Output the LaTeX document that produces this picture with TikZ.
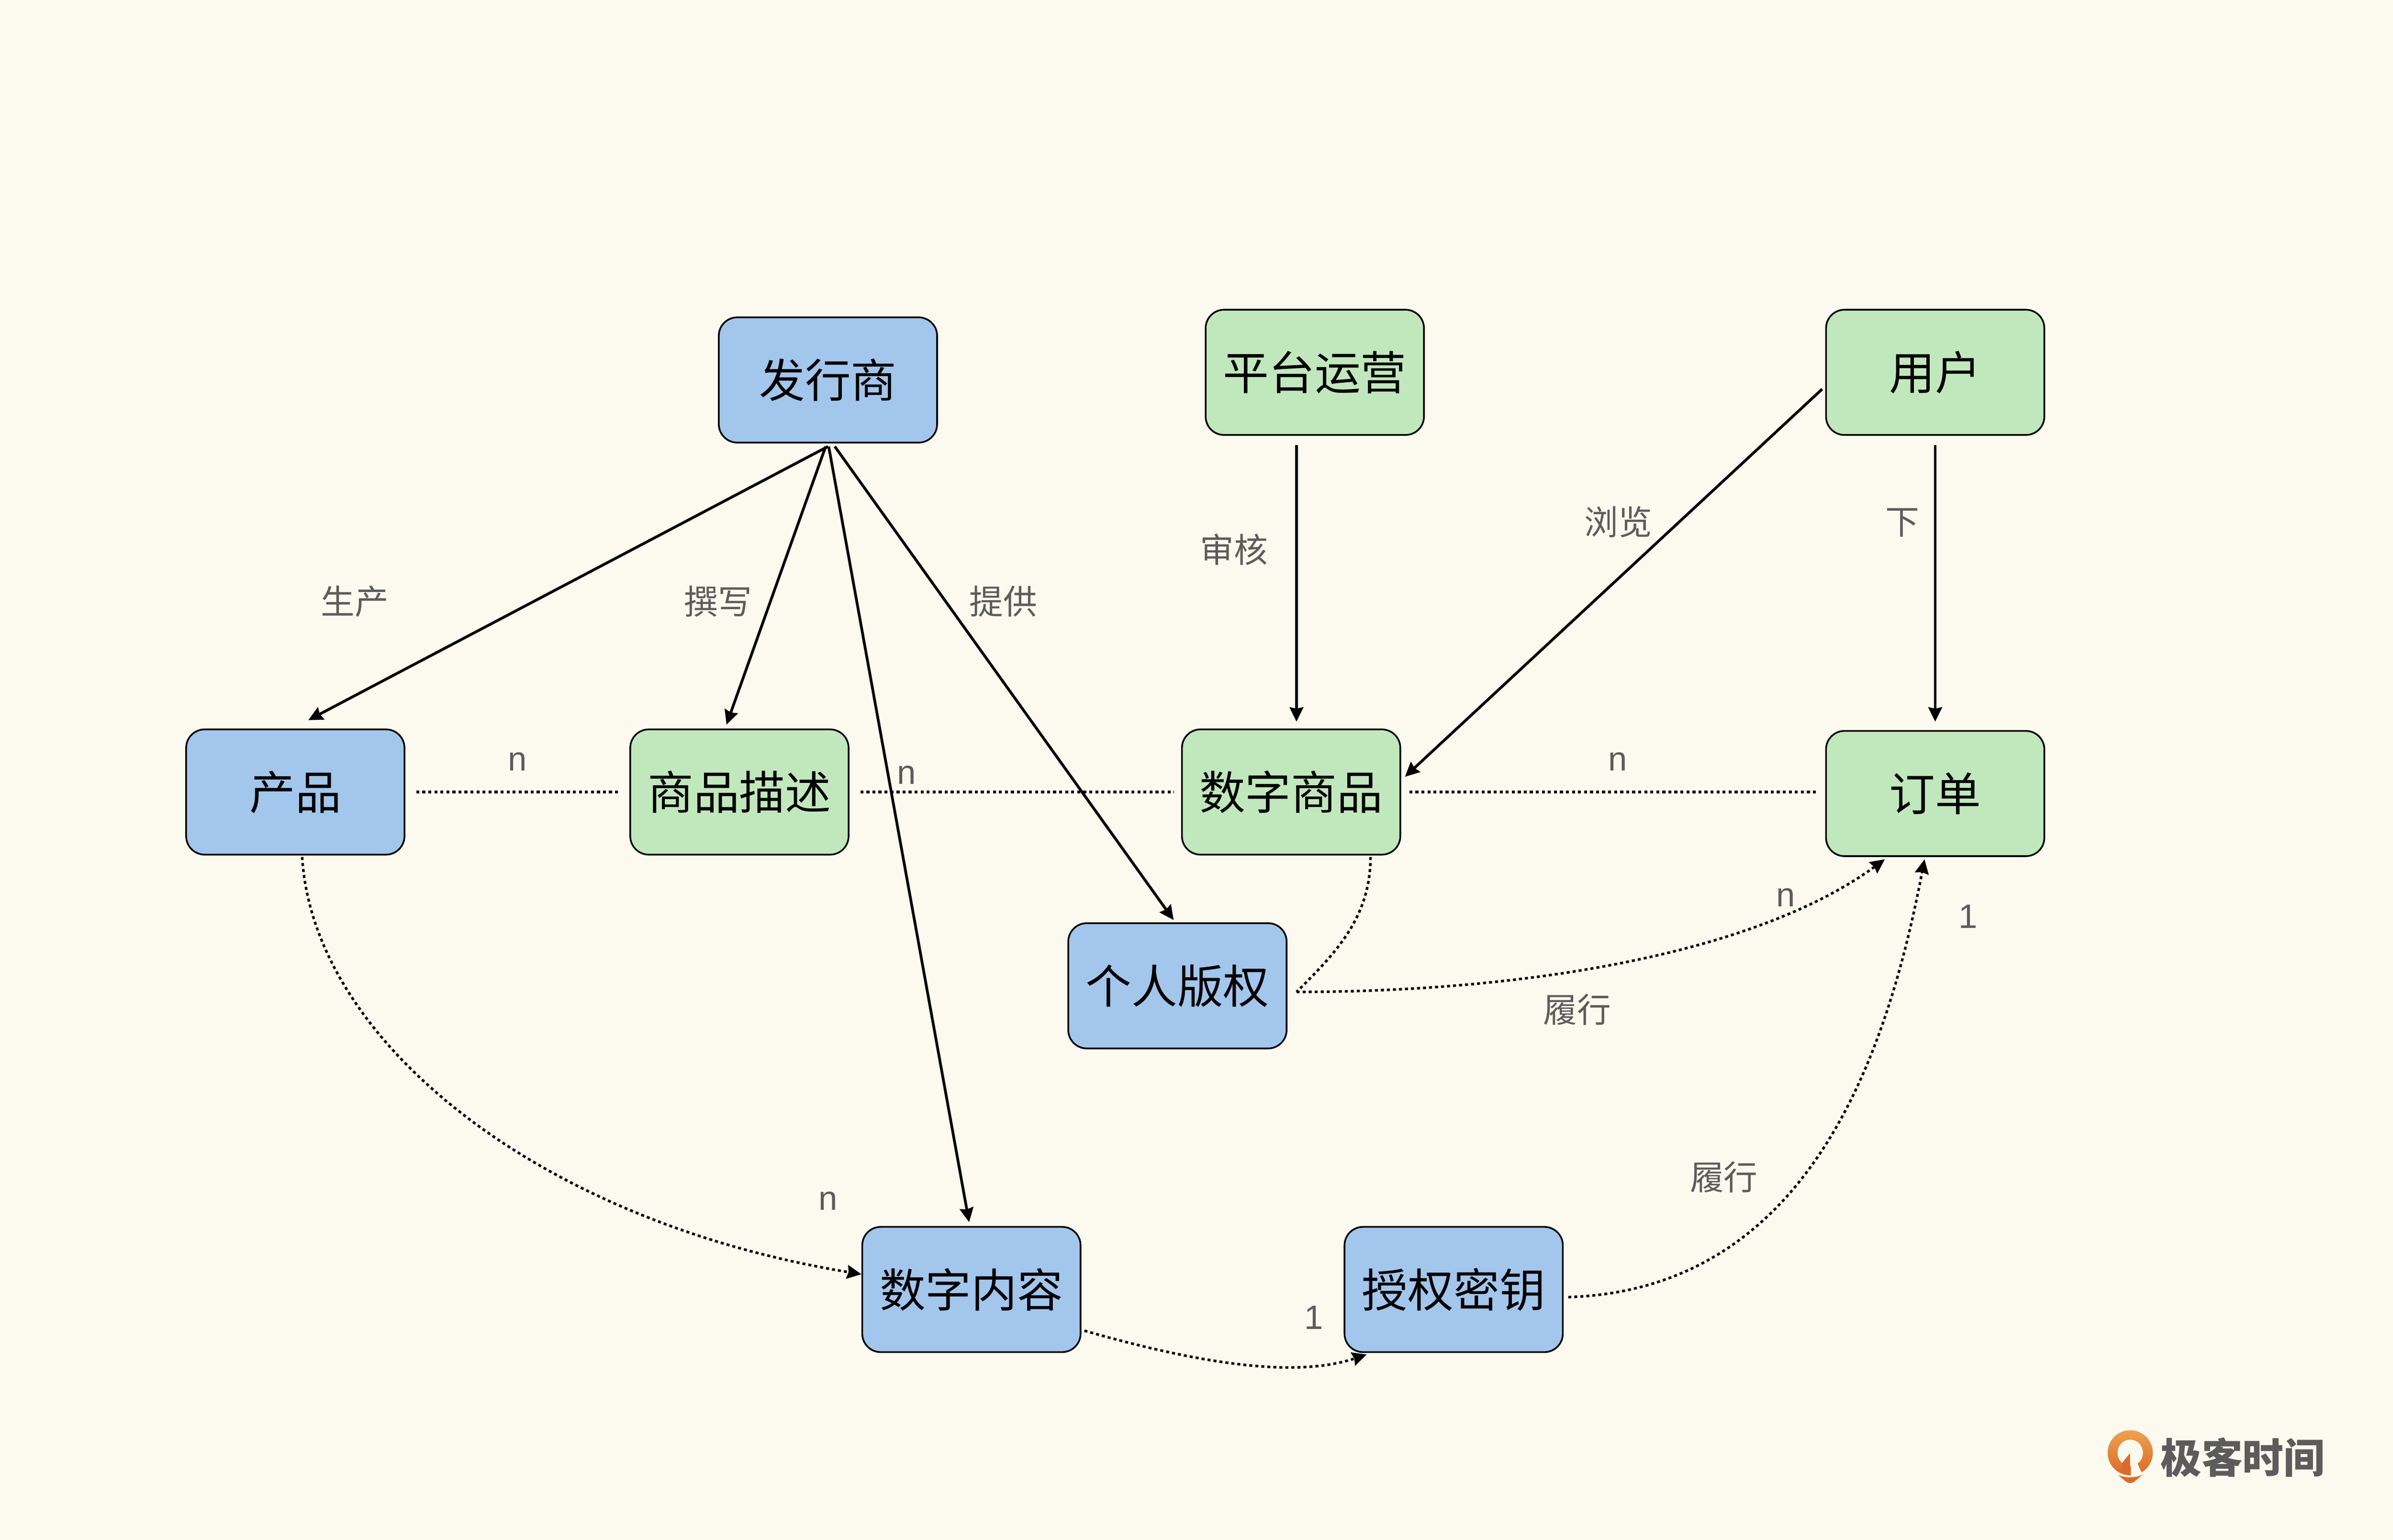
\documentclass[tikz,border=0pt]{standalone}
\usepackage{fontspec}
\setmainfont{Noto Sans CJK SC}
\newfontfamily\latinlab{Liberation Sans}
\usetikzlibrary{arrows.meta}
\definecolor{bgc}{HTML}{FCFAEE}
\definecolor{blueb}{HTML}{A3C6EC}
\definecolor{greenb}{HTML}{C1E8BC}
\definecolor{labc}{HTML}{5C5C5C}
\definecolor{logoa}{HTML}{EDA250}
\definecolor{logob}{HTML}{DD6A2A}
\tikzset{
  ent/.style={draw=black,line width=0.5pt,rounded corners=5.4pt,minimum width=63.8pt,minimum height=36.6pt,inner sep=0pt,font=\fontsize{13.4pt}{15pt}\selectfont,text=black},
  bluebox/.style={ent,fill=blueb},
  greenbox/.style={ent,fill=greenb},
  lab/.style={inner sep=0pt,text=labc,font=\fontsize{9.9pt}{11pt}\selectfont},
  latlab/.style={inner sep=0pt,text=labc,font=\fontsize{9.9pt}{11pt}\latinlab},
  solidarr/.style={line width=0.8pt,-{Stealth[length=4.2pt,width=4pt,inset=0.4pt]}},
  dotline/.style={line width=0.75pt,dash pattern=on 0.88pt off 0.88pt},
  dotarr/.style={dotline,-{Stealth[length=4.2pt,width=4pt,inset=0.4pt]}}
}
\begin{document}
\begin{tikzpicture}[x=0.446pt,y=-0.446pt]
\fill[bgc] (0,0) rectangle (1568,1009);
\useasboundingbox (0,0) rectangle (1568,1009);
% entities
\node[bluebox] (pub) at (542.5,249) {发行商};
\node[greenbox] (plat) at (861.5,244) {平台运营};
\node[greenbox] (user) at (1268,244) {用户};
\node[bluebox] (prod) at (193.5,519) {产品};
\node[greenbox] (desc) at (484.5,519) {商品描述};
\node[greenbox] (digi) at (846,519) {数字商品};
\node[greenbox] (order) at (1268,520) {订单};
\node[bluebox] (lic) at (771.5,646) {个人版权};
\node[bluebox] (cont) at (636.5,845) {数字内容};
\node[bluebox] (key) at (952.5,845) {授权密钥};
% solid arrows
\draw[solidarr] ([shift={(0,2)}]pub.south) -- ([shift={(8.5,-5.5)}]prod.north);
\draw[solidarr] ([shift={(-1.5,2)}]pub.south) -- ([shift={(-8.5,-2.5)}]desc.north);
\draw[solidarr] ([shift={(4.5,2)}]pub.south) -- ([shift={(-2.5,-1.5)}]lic.north);
\draw[solidarr] ([shift={(0.5,2)}]pub.south) -- ([shift={(-1.5,-2.5)}]cont.north);
\draw[solidarr] ([shift={(-12,6)}]plat.south) -- ([shift={(3.5,-4.5)}]digi.north);
\draw[solidarr] ([shift={(-2,11)}]user.west) -- ([shift={(2.5,-10)}]digi.east);
\draw[solidarr] ([shift={(0,6)}]user.south) -- ([shift={(0,-5.5)}]order.north);
% dotted lines
\draw[dotline] ([xshift=3.2pt]prod.east) -- ([xshift=-3.2pt]desc.west);
\draw[dotline] ([xshift=3.2pt]desc.east) -- ([xshift=-2.2pt]digi.west);
\draw[dotline] ([xshift=2.4pt]digi.east) -- ([shift={(-5,-1)}]order.west);
% dotted curves
\coordinate (kink) at ([shift={(6,4)}]lic.east);
\draw[dotline] ([shift={(52,1)}]digi.south) .. controls +(0,40) and +(25,-25) .. (kink);
\draw[dotarr] (kink) .. controls +(150,0) and +(-85,62) .. ([shift={(-33,1.5)}]order.south);
\draw[dotarr] ([shift={(4.5,1)}]prod.south) .. controls +(7,119) and +(-214,-35) .. ([shift={(0,-10)}]cont.west);
\draw[dotarr] ([shift={(2,27)}]cont.east) .. controls +(80,23) and +(-45,15) .. ([shift={(-57,1)}]key.south);
\draw[dotarr] ([shift={(3,5)}]key.east) .. controls +(153,-5) and +(-26,137) .. ([shift={(-7,1.5)}]order.south);
% labels
\node[lab] (l1) at (232.5,394) {生产};
\node[lab] (l2) at (470.5,394) {撰写};
\node[lab] (l3) at (657.5,394) {提供};
\node[lab] (l4) at (808.5,360) {审核};
\node[lab] (l5) at (1060.5,342) {浏览};
\node[lab] (l6) at (1246.5,342.5) {下};
\node[lab] (l7) at (1033.5,661.5) {履行};
\node[lab] (l8) at (1129.5,771.5) {履行};
\node[latlab] (n1) at (339,499) {n};
\node[latlab] (n2) at (594,508) {n};
\node[latlab] (n3) at (1060,499) {n};
\node[latlab] (n4) at (1170,588) {n};
\node[latlab] (n5) at (542.5,787) {n};
\node[latlab] (o1) at (1289.5,600.5) {1};
\node[latlab] (o2) at (861,863.5) {1};
% logo
\shade[top color=logoa,bottom color=logob] (1395.8,952) circle[radius=14.8];
\fill[bgc] (1395.8,952) ellipse[x radius=8.3,y radius=8.6];
\fill[logob] (1395.7,952.2) -- (1390.6,958.5) -- (1390,964) -- (1395.7,966) -- cycle;
\fill[bgc] (1396.2,950) -- (1396.2,968) -- (1404,968) -- (1403.3,964.9) -- (1400.7,959.6) -- (1402,955) -- cycle;
\fill[logob] (1387.7,966.4) .. controls (1392,968.6) and (1399,968.6) .. (1403.9,966.4) -- (1399,970.5) .. controls (1397,972.3) and (1394.5,972.3) .. (1392.5,970.5) -- cycle;
\node[inner sep=0pt,text=labc,font=\fontsize{12pt}{13pt}\selectfont\bfseries] (logotext) at (1469.5,955) {极客时间};
\end{tikzpicture}
\end{document}
